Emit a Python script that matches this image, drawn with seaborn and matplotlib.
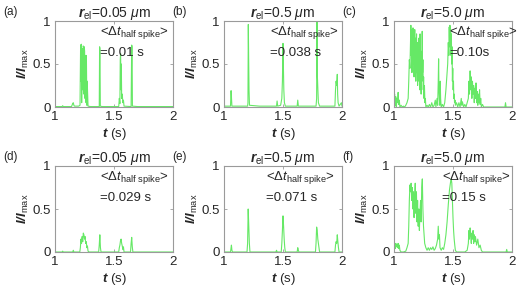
import numpy as np
import pandas as pd
import matplotlib
matplotlib.use("Agg")
import matplotlib.pyplot as plt
import seaborn as sns

# ---------------- data ----------------
a_t = [1.00, 1.06, 1.065, 1.07, 1.14, 1.15, 1.155, 1.16, 1.165, 1.20, 1.212, 1.217, 1.220, 1.223, 1.226,
       1.229, 1.232, 1.236, 1.239, 1.242, 1.245, 1.248, 1.251, 1.254, 1.257, 1.260, 1.263, 1.266, 1.270,
       1.273, 1.28, 1.30, 1.375, 1.378, 1.381, 1.384, 1.40, 1.54, 1.545, 1.55, 1.553, 1.556, 1.559, 1.562,
       1.565, 1.57, 1.575, 1.58, 1.585, 1.645, 1.650, 1.653, 1.656, 1.70, 2.00]
a_y = [0.005, 0.005, 0.015, 0.005, 0.005, 0.04, 0.05, 0.02, 0.01, 0.01, 0.02, 0.72, 0.3, 0.73, 0.05,
       0.4, 0.68, 0.2, 0.71, 0.7, 0.15, 0.7, 0.65, 0.1, 0.6, 0.4, 0.05, 0.6, 0.02,
       0.3, 0.01, 0.005, 0.005, 0.7, 0.68, 0.01, 0.005, 0.005, 0.1, 0.04, 0.55, 0.62, 0.2, 0.5,
       0.1, 0.15, 0.05, 0.08, 0.01, 0.005, 0.72, 0.7, 0.01, 0.005, 0.005]

b_t = [1.00, 1.055, 1.06, 1.063, 1.067, 1.20, 1.203, 1.206, 1.209, 1.212, 1.216, 1.30, 1.445, 1.45, 1.455,
       1.48, 1.49, 1.495, 1.50, 1.503, 1.507, 1.512, 1.52, 1.62, 1.625, 1.63, 1.78, 1.785, 1.788, 1.79,
       1.793, 1.797, 1.80, 1.81, 1.94, 1.945, 1.95, 1.955, 1.96, 1.963, 1.967, 1.975, 1.995, 2.00]
b_y = [0.01, 0.01, 0.19, 0.12, 0.01, 0.01, 0.05, 0.96, 0.55, 0.2, 0.02, 0.01, 0.01, 0.07, 0.01,
       0.02, 0.1, 0.3, 0.74, 0.5, 0.2, 0.05, 0.01, 0.01, 0.08, 0.01, 0.01, 0.1, 1.0, 0.4,
       0.3, 0.15, 0.05, 0.01, 0.01, 0.2, 0.3, 0.25, 0.38, 0.15, 0.05, 0.01, 0.05, 0.01]

c_t = [1.000, 1.005, 1.010, 1.015, 1.020, 1.025, 1.030, 1.035, 1.040, 1.045, 1.050, 1.060, 1.070, 1.080,
       1.090, 1.100, 1.110, 1.120, 1.125, 1.130, 1.135, 1.140, 1.143, 1.146, 1.149, 1.152, 1.155, 1.158,
       1.161, 1.164, 1.167, 1.170, 1.173, 1.176, 1.179, 1.182, 1.185, 1.188, 1.191, 1.194, 1.197, 1.200,
       1.203, 1.206, 1.209, 1.212, 1.215, 1.218, 1.221, 1.224, 1.227, 1.230, 1.233, 1.236, 1.239, 1.242,
       1.245, 1.248, 1.251, 1.254, 1.258, 1.262, 1.266, 1.270, 1.280, 1.290, 1.300, 1.310, 1.320, 1.330,
       1.340, 1.350, 1.355, 1.360, 1.365, 1.370, 1.375, 1.378, 1.381, 1.384, 1.388, 1.392, 1.395, 1.400,
       1.410, 1.420, 1.430, 1.440, 1.455, 1.460, 1.465, 1.468, 1.471, 1.474, 1.477, 1.480, 1.483, 1.486,
       1.489, 1.492, 1.495, 1.498, 1.501, 1.504, 1.507, 1.510, 1.513, 1.517, 1.520, 1.530, 1.540, 1.550,
       1.560, 1.570, 1.575, 1.580, 1.590, 1.600, 1.610, 1.620, 1.630, 1.635, 1.640, 1.645, 1.650, 1.655,
       1.660, 1.665, 1.670, 1.675, 1.680, 1.685, 1.690, 1.695, 1.700, 1.705, 1.710, 1.715, 1.720, 1.725,
       1.730, 1.735, 1.740, 1.750, 1.760, 1.800, 1.900, 1.940, 1.945, 1.950, 2.000]
c_y = [0.05, 0.15, 0.02, 0.12, 0.0, 0.1, 0.05, 0.17, 0.03, 0.08, 0.0, 0.02, 0.0, 0.01,
       0.0, 0.02, 0.05, 0.1, 0.3, 0.55, 0.45, 0.8, 0.95, 0.6, 0.9, 0.4, 0.85, 0.7,
       0.92, 0.5, 0.88, 0.35, 0.75, 0.9, 0.45, 0.8, 0.3, 0.7, 0.85, 0.4, 0.6, 0.25,
       0.75, 0.5, 0.8, 0.3, 0.6, 0.2, 0.85, 0.4, 0.65, 0.15, 0.5, 0.3, 0.88, 0.4,
       0.55, 0.2, 0.35, 0.1, 0.25, 0.05, 0.1, 0.0, 0.02, 0.0, 0.03, 0.0, 0.05, 0.0,
       0.02, 0.08, 0.0, 0.05, 0.1, 0.02, 0.3, 0.56, 0.2, 0.1, 0.02, 0.3, 0.1, 0.0,
       0.03, 0.0, 0.05, 0.2, 0.5, 0.75, 0.6, 0.93, 0.7, 0.95, 0.8, 0.9, 0.6, 0.85,
       0.5, 0.7, 0.3, 0.45, 0.2, 0.3, 0.1, 0.15, 0.05, 0.08, 0.02, 0.05, 0.0, 0.05,
       0.0, 0.1, 0.02, 0.06, 0.0, 0.03, 0.0, 0.05, 0.1, 0.3, 0.15, 0.42, 0.2, 0.35,
       0.1, 0.3, 0.15, 0.25, 0.05, 0.22, 0.1, 0.28, 0.05, 0.18, 0.02, 0.15, 0.05, 0.2,
       0.03, 0.1, 0.0, 0.03, 0.0, 0.0, 0.0, 0.0, 0.05, 0.0, 0.0]

d_t = [1.00, 1.06, 1.065, 1.07, 1.15, 1.155, 1.16, 1.21, 1.215, 1.22, 1.225, 1.23, 1.235, 1.24, 1.245,
       1.25, 1.255, 1.26, 1.265, 1.27, 1.275, 1.28, 1.29, 1.37, 1.375, 1.38, 1.385, 1.39, 1.54, 1.545,
       1.55, 1.555, 1.56, 1.565, 1.57, 1.575, 1.58, 1.585, 1.64, 1.645, 1.65, 1.655, 1.66, 2.00]
d_y = [0.0, 0.0, 0.01, 0.0, 0.0, 0.02, 0.0, 0.0, 0.05, 0.15, 0.1, 0.18, 0.12, 0.22, 0.2,
       0.15, 0.18, 0.1, 0.12, 0.05, 0.07, 0.01, 0.0, 0.0, 0.08, 0.2, 0.05, 0.0, 0.0, 0.05,
       0.08, 0.13, 0.15, 0.1, 0.07, 0.03, 0.06, 0.0, 0.0, 0.1, 0.17, 0.06, 0.0, 0.0]

e_t = [1.00, 1.055, 1.06, 1.063, 1.067, 1.072, 1.195, 1.20, 1.205, 1.21, 1.215, 1.22, 1.44, 1.445, 1.45,
       1.485, 1.49, 1.495, 1.50, 1.505, 1.51, 1.515, 1.52, 1.62, 1.625, 1.63, 1.635, 1.775, 1.78, 1.785,
       1.79, 1.795, 1.80, 1.805, 1.81, 1.94, 1.945, 1.95, 1.955, 1.96, 1.965, 1.97, 1.975, 2.00]
e_y = [0.0, 0.0, 0.05, 0.08, 0.02, 0.0, 0.0, 0.1, 0.5, 0.3, 0.1, 0.0, 0.0, 0.02, 0.0,
       0.0, 0.1, 0.25, 0.42, 0.3, 0.15, 0.05, 0.0, 0.0, 0.05, 0.02, 0.0, 0.0, 0.1, 0.29,
       0.25, 0.15, 0.1, 0.05, 0.0, 0.0, 0.08, 0.12, 0.1, 0.2, 0.12, 0.05, 0.0, 0.0]

f_t = [1.000, 1.005, 1.010, 1.015, 1.020, 1.025, 1.030, 1.035, 1.040, 1.045, 1.050, 1.060, 1.080, 1.100,
       1.110, 1.120, 1.125, 1.130, 1.135, 1.140, 1.145, 1.150, 1.155, 1.160, 1.165, 1.170, 1.175, 1.180,
       1.185, 1.190, 1.195, 1.200, 1.205, 1.210, 1.215, 1.220, 1.225, 1.230, 1.235, 1.240, 1.245, 1.250,
       1.255, 1.260, 1.270, 1.280, 1.290, 1.300, 1.310, 1.320, 1.330, 1.340, 1.350, 1.360, 1.370, 1.375,
       1.380, 1.385, 1.390, 1.400, 1.410, 1.420, 1.430, 1.440, 1.450, 1.460, 1.470, 1.480, 1.485, 1.490,
       1.495, 1.500, 1.505, 1.510, 1.515, 1.520, 1.530, 1.540, 1.550, 1.600, 1.620, 1.630, 1.635, 1.640,
       1.645, 1.650, 1.655, 1.660, 1.665, 1.670, 1.675, 1.680, 1.685, 1.690, 1.700, 1.710, 1.720, 1.730,
       1.740, 1.750, 1.950, 1.955, 1.960, 2.000]
f_y = [0.05, 0.08, 0.04, 0.1, 0.06, 0.09, 0.05, 0.1, 0.04, 0.08, 0.02, 0.0, 0.0, 0.01,
       0.05, 0.1, 0.3, 0.6, 0.78, 0.7, 0.8, 0.6, 0.75, 0.5, 0.7, 0.4, 0.65, 0.8,
       0.45, 0.7, 0.35, 0.6, 0.3, 0.5, 0.25, 0.45, 0.6, 0.35, 0.75, 0.85, 0.5, 0.3,
       0.2, 0.1, 0.05, 0.02, 0.05, 0.02, 0.05, 0.03, 0.06, 0.02, 0.04, 0.08, 0.15, 0.3,
       0.15, 0.2, 0.05, 0.02, 0.05, 0.03, 0.1, 0.2, 0.35, 0.55, 0.72, 0.82, 0.85, 0.8,
       0.6, 0.4, 0.25, 0.15, 0.08, 0.02, 0.0, 0.0, 0.0, 0.0, 0.02, 0.1, 0.25, 0.15,
       0.28, 0.2, 0.1, 0.22, 0.15, 0.25, 0.1, 0.2, 0.12, 0.18, 0.08, 0.15, 0.05, 0.08,
       0.02, 0.0, 0.0, 0.03, 0.0, 0.0]

panel_labels = ["(a)", "(b)", "(c)", "(d)", "(e)", "(f)"]
radii = ["0.05", "0.5", "5.0", "0.05", "0.5", "5.0"]
half_spike = ["=0.01 s", "=0.038 s", "=0.10s", "=0.029 s", "=0.071 s", "=0.15 s"]
x_ticks = [1, 1.5, 2]
x_ticklabels = ["1", "1.5", "2"]
y_ticks = [0, 0.5, 1]
y_ticklabels = ["0", "0.5", "1"]

series = [(a_t, a_y), (b_t, b_y), (c_t, c_y), (d_t, d_y), (e_t, e_y), (f_t, f_y)]

# ---------------- styling ----------------
sns.set_style("white")
plt.rcParams["font.family"] = ["Liberation Sans", "DejaVu Sans"]
plt.rcParams["mathtext.fontset"] = "custom"
plt.rcParams["mathtext.rm"] = "Liberation Sans"
plt.rcParams["mathtext.it"] = "Liberation Sans:italic"
plt.rcParams["mathtext.bf"] = "Liberation Sans:bold:italic"
plt.rcParams["mathtext.sf"] = "Liberation Sans"

GREEN = "#66e866"
SPINE = "#9a9a9a"

fig = plt.figure(figsize=(5.2, 2.9), dpi=100)
lefts = [55, 224, 394]
tops = [21, 166]
W, H = 118, 86
ann_x = [0.38, 0.39, 0.47, 0.38, 0.36, 0.41]

for i, (tt, yy) in enumerate(series):
    r, c = divmod(i, 3)
    l = lefts[c] / 520
    b = 1 - (tops[r] + H) / 290
    ax = fig.add_axes([l, b, W / 520, H / 290])
    df = pd.DataFrame({"t": tt, "y": yy})
    sns.lineplot(data=df, x="t", y="y", ax=ax, color=GREEN, linewidth=0.8,
                 estimator=None, sort=False)
    ax.set_xlim(1, 2)
    ax.set_ylim(0, 1)
    ax.set_xticks(x_ticks)
    ax.set_xticklabels(x_ticklabels)
    ax.set_yticks(y_ticks)
    ax.set_yticklabels(y_ticklabels)
    ax.tick_params(direction="in", length=2.5, width=0.6, color=SPINE,
                   labelsize=9.5, pad=3, top=True, right=True,
                   bottom=True, left=True, labeltop=False, labelright=False)
    for s in ax.spines.values():
        s.set_color(SPINE)
        s.set_linewidth(0.8)
    ax.set_xlabel(r"$\mathbf{t}$ (s)", fontsize=9.5, labelpad=2)
    ax.set_ylabel(r"$\mathbf{I/I}_{\mathrm{max}}$", fontsize=9.5, labelpad=1)
    ax.set_title(r"$\mathbf{r}_{\mathrm{el}}$=" + radii[i] + r" $\mathit{\mu}$m",
                 fontsize=10, pad=3)
    ax.text(ann_x[i], 0.87, r"<$\Delta\mathit{t}_{\mathrm{half\ spike}}$>",
            transform=ax.transAxes, fontsize=9.5, va="center", ha="left")
    ax.text(ann_x[i], 0.63, half_spike[i], transform=ax.transAxes,
            fontsize=9.5, va="center", ha="left")
    fig.text((lefts[c] - 52) / 520, 1 - (tops[r] - 9) / 290, panel_labels[i],
             fontsize=8.5, va="center", ha="left")

fig.savefig("out.png", dpi=100)
